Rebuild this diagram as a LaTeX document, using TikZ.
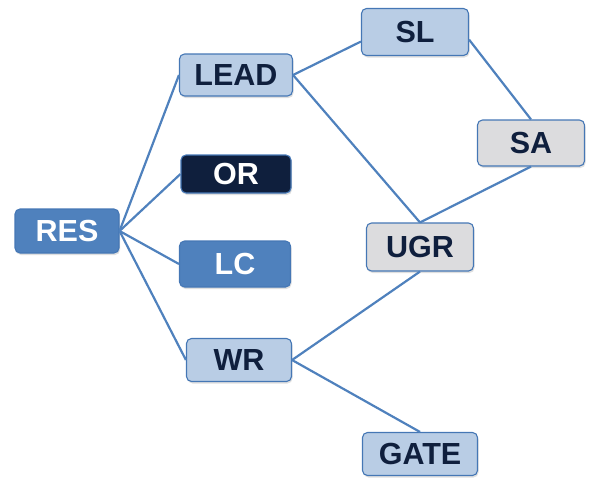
\documentclass[tikz,border=0pt]{standalone}
\usepackage{fontspec}
\setmainfont{Liberation Sans}
\usetikzlibrary{shadows}

\definecolor{lineblue}{HTML}{4F81BD}
\definecolor{edgeblue}{HTML}{4577B5}
\definecolor{paleblue}{HTML}{B9CDE5}
\definecolor{palegray}{HTML}{DCDCDE}
\definecolor{navy}{HTML}{0F1F3D}

\begin{document}
\begin{tikzpicture}[x=1pt,y=-1pt,
  box/.style={shape=rectangle,rounded corners=5pt,draw=edgeblue,line width=1.1pt,
    minimum width=107pt,minimum height=44pt,inner sep=0pt,
    font=\fontsize{30.5}{30}\selectfont\bfseries,
    drop shadow={shadow xshift=1pt,shadow yshift=-2pt,opacity=0.25}},
  boxL/.style={box,fill=paleblue,text=navy},
  boxG/.style={box,fill=palegray,text=navy},
  boxM/.style={box,fill=lineblue,text=white},
  boxD/.style={box,fill=navy,text=white},
  link/.style={draw=lineblue,line width=2.2pt}]
\useasboundingbox (0,0) rectangle (593,479);

\node[boxM,minimum width=104pt] (RES) at (67,231) {RES};

\node[boxL,minimum width=113pt,minimum height=42pt] (LEAD) at (236,75) {LEAD};
\node[boxD,minimum width=110pt,minimum height=38pt] (OR) at (236,174) {OR};
\node[boxM,minimum width=111pt,minimum height=46pt] (LC) at (235,264) {LC};
\node[boxL,minimum width=105pt,minimum height=43pt] (WR) at (239,360) {WR};

\node[boxL,minimum height=47pt] (SL) at (415,32) {SL};
\node[boxG,minimum height=46pt] (SA) at (531,143) {SA};
\node[boxG,minimum height=48pt] (UGR) at (420,247) {UGR};
\node[boxL,minimum width=115pt,minimum height=43pt] (GATE) at (420,454) {GATE};

\draw[link] (RES.east) -- (LEAD.west);
\draw[link] (RES.east) -- (OR.west);
\draw[link] (RES.east) -- (LC.west);
\draw[link] (RES.east) -- (WR.west);
\draw[link] (LEAD.east) -- (SL.190);
\draw[link] (LEAD.east) -- (UGR.north);
\draw[link] (SL.-8) -- (SA.north);
\draw[link] (SA.south) -- (UGR.north);
\draw[link] (UGR.south) -- (WR.east);
\draw[link] (WR.east) -- (GATE.north);

\end{tikzpicture}
\end{document}
